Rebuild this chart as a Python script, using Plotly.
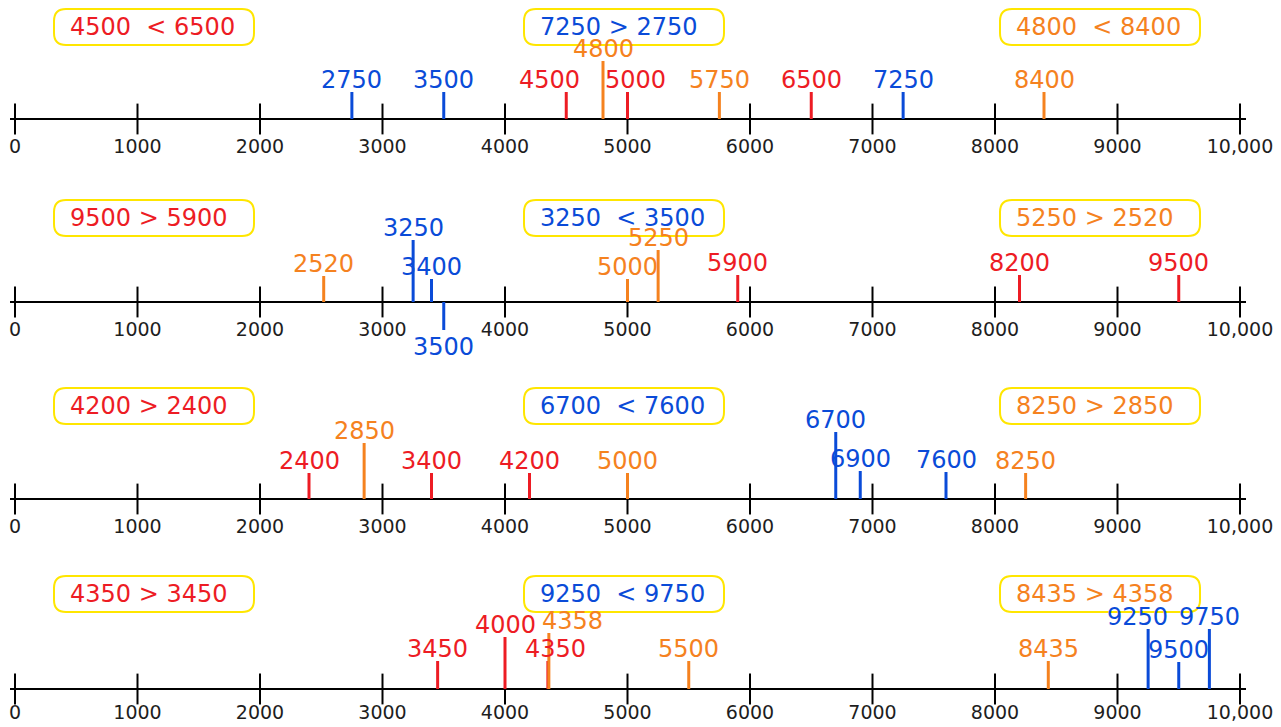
import plotly.graph_objects as go

TICKS = [0, 1000, 2000, 3000, 4000, 5000, 6000, 7000, 8000, 9000, 10000]
TICK_LABELS = ["0", "1000", "2000", "3000", "4000", "5000", "6000", "7000", "8000", "9000", "10,000"]

# numbers marked on each of the four number lines
red_values = [[4500, 5000, 6500], [5900, 8200, 9500], [2400, 3400, 4200], [3450, 4000, 4350]]
blue_values = [[2750, 3500, 7250], [3250, 3400, 3500], [6700, 6900, 7600], [9250, 9500, 9750]]
orange_values = [[4800, 5750, 8400], [2520, 5000, 5250], [2850, 5000, 8250], [4358, 5500, 8435]]

# comparisons written in the boxes above each line
red_compare = [(4500, "<", 6500), (9500, ">", 5900), (4200, ">", 2400), (4350, ">", 3450)]
blue_compare = [(7250, ">", 2750), (3250, "<", 3500), (6700, "<", 7600), (9250, "<", 9750)]
orange_compare = [(4800, "<", 8400), (5250, ">", 2520), (8250, ">", 2850), (8435, ">", 4358)]

# ---- styling / layout ----
RED, BLUE, ORANGE = "#ED1C24", "#0A4BD8", "#F5821F"
FONT = "DejaVu Sans"
W, H = 1281, 727
X0_PX, PX_PER_UNIT = 15, 0.1225          # where 0 sits and how wide 1 unit is
ROW_Y = [119, 302, 499, 689]             # baseline of each line (px from top)
TICK_DY = [29, 29, 29, 25]               # tick label offset below the line
BOX_Y = [27, 218, 406, 594]              # centre of the boxes in each row
BOX_X = [154, 624, 1100]                 # centre of the red / blue / orange boxes

# stem length in px for each mark (negative = drawn below the line)
red_stems = [[27, 27, 27], [27, 27, 27], [26, 26, 26], [28, 52, 28]]
blue_stems = [[27, 27, 27], [62, 23, -28], [67, 28, 27], [60, 27, 60]]
orange_stems = [[58, 27, 27], [26, 23, 52], [56, 26, 26], [56, 28, 28]]
# horizontal nudge of a label in px
red_shift = [[-17, 8, 0], [0, 0, 0], [0, 0, 0], [0, 0, 8]]
blue_shift = [[0, 0, 0], [0, 0, 0], [0, 0, 0], [-11, 0, 0]]
orange_shift = [[0, 0, 0], [0, 0, 0], [0, 0, 0], [24, 0, 0]]


def px2x(px):
    return (px - X0_PX) / PX_PER_UNIT


fig = go.Figure()
annotations = []
shapes = []

box_path = ("M -88,-18 L 88,-18 Q 100,-18 100,-6 L 100,6 Q 100,18 88,18 "
            "L -88,18 Q -100,18 -100,6 L -100,-6 Q -100,-18 -88,-18 Z")

for r, base in enumerate(ROW_Y):
    # the number line itself
    fig.add_trace(go.Scatter(x=[px2x(10), px2x(1246)], y=[base, base], mode="lines",
                             line=dict(color="black", width=2), hoverinfo="skip"))
    fig.add_trace(go.Scatter(x=TICKS, y=[base] * len(TICKS), mode="markers",
                             marker=dict(symbol="line-ns", size=22,
                                         line=dict(color="black", width=2)),
                             hoverinfo="skip"))
    fig.add_trace(go.Scatter(x=TICKS, y=[base + TICK_DY[r]] * len(TICKS), mode="text",
                             text=TICK_LABELS,
                             textfont=dict(family=FONT, size=19, color="#1E1E1E"),
                             hoverinfo="skip"))

    groups = [(red_values, red_stems, red_shift, red_compare, RED),
              (blue_values, blue_stems, blue_shift, blue_compare, BLUE),
              (orange_values, orange_stems, orange_shift, orange_compare, ORANGE)]
    for g, (vals, stems, shifts, cmp, col) in enumerate(groups):
        xs, ys = [], []
        for v, s, dx in zip(vals[r], stems[r], shifts[r]):
            xs += [v, v, None]
            ys += [base, base - s, None]
            label_y = base - s - 12 if s > 0 else base - s + 17
            annotations.append(dict(x=v, y=label_y, text=str(v), showarrow=False,
                                    xshift=dx, xanchor="center", yanchor="middle",
                                    font=dict(family=FONT, size=24, color=col)))
        fig.add_trace(go.Scatter(x=xs, y=ys, mode="lines",
                                 line=dict(color=col, width=3), hoverinfo="skip"))

        # rounded box with the comparison
        shapes.append(dict(type="path", path=box_path, xref="x", yref="y",
                           xsizemode="pixel", ysizemode="pixel",
                           xanchor=px2x(BOX_X[g]), yanchor=BOX_Y[r],
                           line=dict(color="#FFE600", width=2), fillcolor="white",
                           layer="below"))
        a, op, b = cmp[r]
        gap = "\u00a0\u00a0" if op == "<" else "\u00a0"
        op_txt = "&lt;" if op == "<" else "&gt;"
        annotations.append(dict(x=px2x(BOX_X[g] - 86), y=BOX_Y[r],
                                text=f"{a}{gap}{op_txt}\u00a0{b}", showarrow=False,
                                xanchor="left", yanchor="middle",
                                font=dict(family=FONT, size=24, color=col)))

fig.update_layout(
    width=W, height=H,
    margin=dict(l=0, r=0, t=0, b=0),
    paper_bgcolor="white", plot_bgcolor="white",
    showlegend=False,
    xaxis=dict(range=[px2x(0), px2x(W)], visible=False, fixedrange=True),
    yaxis=dict(range=[H, 0], visible=False, fixedrange=True),
    shapes=shapes,
    annotations=annotations,
)

fig.write_html("out.html", config={"displayModeBar": False},
               post_script="document.body.style.margin='0';document.body.style.overflow='hidden';")
